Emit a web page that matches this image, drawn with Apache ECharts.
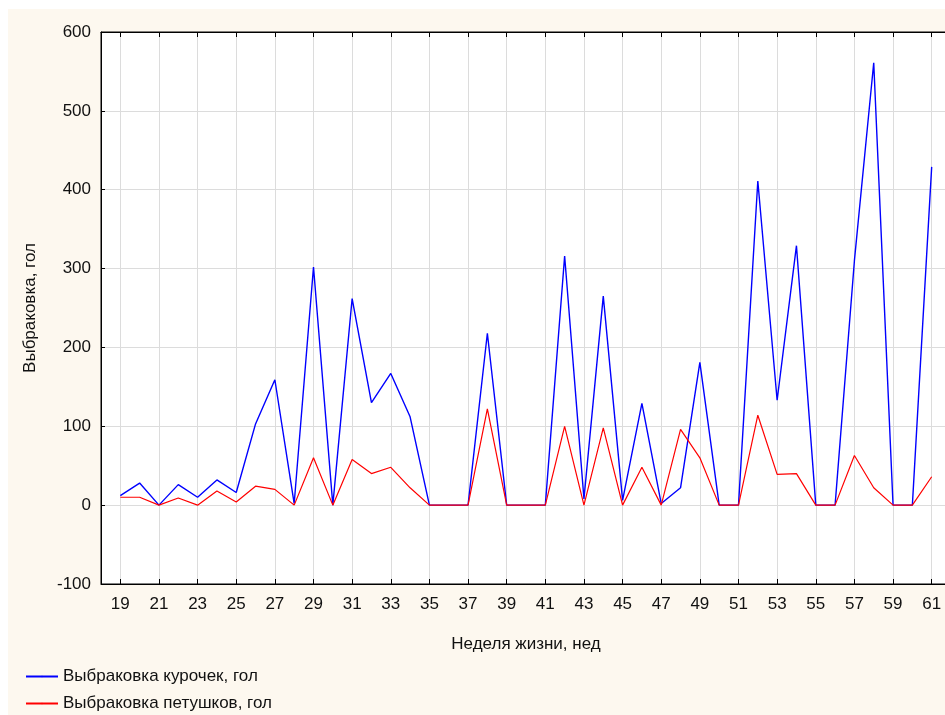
<!DOCTYPE html>
<html><head><meta charset="utf-8">
<script src="https://cdn.jsdelivr.net/npm/echarts@6/dist/echarts.min.js"></script>
<style>
html,body{margin:0;padding:0;background:#fff;width:945px;height:715px;overflow:hidden;position:relative;}
#c{position:absolute;left:8px;top:9px;width:960px;height:706px;}
</style></head>
<body><div id="c"></div>
<script>
const weeks = [19,20,21,22,23,24,25,26,27,28,29,30,31,32,33,34,35,36,37,38,39,40,41,42,43,44,45,46,47,48,49,50,51,52,53,54,55,56,57,58,59,60,61];
const hens = [12,28,0,26,10,32,16,103,159,2,302,0,262,130,167,112,0,0,0,218,0,0,0,316,8,265,6,129,2,22,181,0,0,411,133,329,0,0,310,561,0,0,429];
const roosters = [10,10,0,9,0,18,4,24,20,0,60,0,58,40,48,22,0,0,0,122,0,0,0,100,0,98,0,48,0,96,60,0,0,114,39,40,0,0,63,22,0,0,36];
const seriesNames = ['Выбраковка курочек, гол','Выбраковка петушков, гол'];
const xName = 'Неделя жизни, нед';
const yName = 'Выбраковка, гол';

// pad one empty category on each side (axis spans from week 18 to 62)
const cats = [String(weeks[0]-1)].concat(weeks.map(String), [String(weeks[weeks.length-1]+1)]);
const pad = arr => [null].concat(arr, [null]);
const showOdd = (i) => i % 2 === 1;
const font = 'Liberation Sans, Arial, sans-serif';
const legendText = {fontFamily: font, fontSize: 17, color: '#111'};

const chart = echarts.init(document.getElementById('c'));
chart.setOption({
  backgroundColor: '#fdf8ef',
  animation: false,
  grid: {left: 93, top: 23, width: 850, height: 552, show: true, backgroundColor: '#fff', borderColor: '#000', borderWidth: 1},
  legend: [
    {left: 12, top: 654, itemWidth: 32, itemHeight: 2, textStyle: legendText, data: [seriesNames[0]]},
    {left: 12, top: 681, itemWidth: 32, itemHeight: 2, textStyle: legendText, data: [seriesNames[1]]}
  ],
  xAxis: [{
    type: 'category', data: cats, boundaryGap: false,
    name: xName, nameLocation: 'middle', nameGap: 52,
    nameTextStyle: {fontFamily: font, fontSize: 17, color: '#111'},
    axisLine: {onZero: false, lineStyle: {color: '#000', width: 1}},
    axisTick: {inside: true, length: 5, interval: showOdd, lineStyle: {color: '#000'}},
    axisLabel: {interval: showOdd, margin: 12, fontFamily: font, fontSize: 17, color: '#111'},
    splitLine: {show: true, interval: showOdd, lineStyle: {color: '#dcdcdc', width: 1}}
  },{
    type: 'category', data: cats, boundaryGap: false, position: 'top',
    axisLine: {onZero: false, lineStyle: {color: '#000', width: 1}},
    axisTick: {inside: true, length: 5, interval: showOdd, lineStyle: {color: '#000'}},
    axisLabel: {show: false}, splitLine: {show: false}
  }],
  yAxis: {
    type: 'value', min: -100, max: 600, interval: 100,
    name: yName, nameLocation: 'middle', nameGap: 62, nameRotate: 90,
    nameTextStyle: {fontFamily: font, fontSize: 17, color: '#111'},
    axisLine: {show: true, onZero: false, lineStyle: {color: '#000', width: 1}},
    axisTick: {show: true, inside: true, length: 4, lineStyle: {color: '#000'}},
    axisLabel: {margin: 10, fontFamily: font, fontSize: 17, color: '#111'},
    splitLine: {show: true, lineStyle: {color: '#dcdcdc', width: 1}}
  },
  series: [{
    name: seriesNames[0], type: 'line', data: pad(hens), symbol: 'none',
    lineStyle: {color: '#0000ff', width: 1.4}, itemStyle: {color: '#0000ff'}, z: 2
  },{
    name: seriesNames[1], type: 'line', data: pad(roosters), symbol: 'none',
    lineStyle: {color: '#ff0000', width: 1.2}, itemStyle: {color: '#ff0000'}, z: 3
  }]
});
</script></body></html>
